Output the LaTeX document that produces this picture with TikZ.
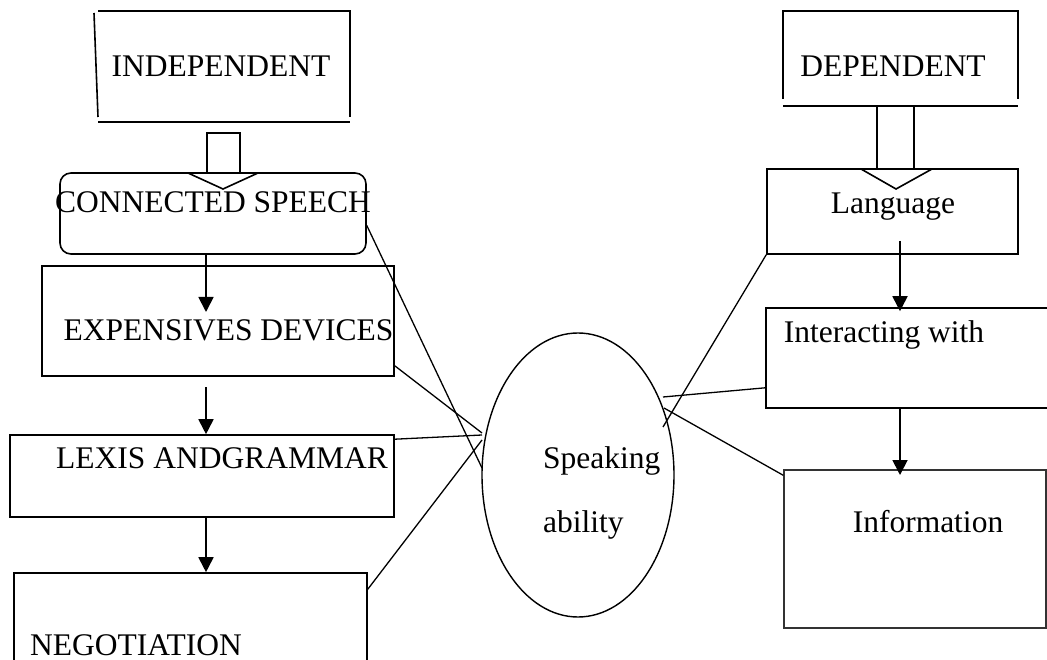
\documentclass[tikz,border=0pt]{standalone}
\usepackage{fontspec}
\setmainfont{Liberation Serif}
\usetikzlibrary{arrows.meta,shapes.geometric,calc}
\begin{document}
\begin{tikzpicture}[x=1pt,y=-1pt,
  box/.style={draw,line width=1.6pt,inner sep=0pt,rectangle},
  rbox/.style={box,rounded corners=11pt},
  txt/.style={inner sep=0pt,anchor=base,font=\fontsize{31.5}{38}\selectfont},
  link/.style={line width=1.3pt},
  arr/.style={line width=1.8pt,-{Triangle[length=15pt,width=15pt]}},
  blk/.style={line width=1.6pt,line join=miter}]
\useasboundingbox (0,0) rectangle (1047,660);
% left column
\node[txt] (indep) at (221,77) {INDEPENDENT};
\draw[box] (94,13) -- (98,117);
\draw[box] (98,11) -- (350,11) -- (350,117);
\draw[box] (98,122) -- (350,122);
\node[rbox,minimum width=306pt,minimum height=81pt] (conn) at (213,213.5) {};
\node[txt] (conntxt) at (213,213) {CONNECTED SPEECH};
\node[box,minimum width=352pt,minimum height=110pt] (exp) at (218,321) {};
\node[txt] (exptxt) at (228.5,341) {EXPENSIVES DEVICES};
\node[box,minimum width=384pt,minimum height=82pt] (lex) at (202,476) {};
\node[txt] (lextxt) at (222,468) {LEXIS ANDGRAMMAR};
\node[box,minimum width=353pt,minimum height=88pt] (neg) at (190.5,617) {};
\node[txt,anchor=base west] (negtxt) at (30,655) {NEGOTIATION};
% block arrow independent
\draw[blk] (207,173) -- (207,133) -- (240,133) -- (240,173);
\draw[blk] (188,173) -- (223,189) -- (258,173);
% right column
\node[txt] (dep) at (893,77) {DEPENDENT};
\draw[box] (783,99) -- (783,11) -- (1018,11) -- (1018,99);
\draw[box] (783,106) -- (1018,106);
\node[box,minimum width=251pt,minimum height=85pt] (lang) at (892.5,211.5) {};
\node[txt] (langtxt) at (893,214) {Language};
\node[box,minimum width=294pt,minimum height=100pt] (inter) at (913,358) {};
\node[txt] (intertxt) at (884,342) {Interacting with};
\node[box,line width=1.3pt,draw=black!80,minimum width=262pt,minimum height=158pt] (info) at (915,549) {};
\node[txt] (infotxt) at (928,532) {Information};
% block arrow dependent
\draw[blk] (877,169) -- (877,106) -- (914,106) -- (914,169);
\draw[blk] (861,169) -- (896,189) -- (932,169);
% ellipse
\node[ellipse,draw,line width=1.4pt,inner sep=0pt,minimum width=192pt,minimum height=284pt] (sp) at (578,475) {};
\node[txt,anchor=base west] (sp1) at (543,468) {Speaking};
\node[txt,anchor=base west] (sp2) at (543,532) {ability};
% vertical arrows
\coordinate (lx) at (206,0);
\coordinate (rx) at (900,0);
\coordinate (t1) at (206,312);
\coordinate (s2) at (206,387);
\coordinate (s4) at (900,241);
\coordinate (t5) at (900,475);
\draw[arr] (conn.south -| lx) -- (t1);
\draw[arr] (s2) -- (lex.north -| lx);
\draw[arr] (lex.south -| lx) -- (neg.north -| lx);
\draw[arr] (s4) -- ([yshift=-4pt]inter.north -| rx);
\draw[arr] (inter.south -| rx) -- (t5);
% connectors to ellipse
\coordinate (ec) at (482,468);
\coordinate (ee) at (482,433);
\coordinate (el) at (482,435);
\coordinate (en) at (482,440);
\coordinate (ela) at (663,427);
\coordinate (ei) at (663,397);
\coordinate (ein) at (664,408);
\draw[link] ([yshift=-12pt]conn.east) -- (ec);
\draw[link] ([yshift=11pt]exp.south east) -- (ee);
\draw[link] ([yshift=-5pt]lex.north east) -- (el);
\draw[link] ([yshift=-17pt]neg.north east) -- (en);
\draw[link] (lang.south west) -- (ela);
\draw[link] ([yshift=21pt]inter.south west) -- (ei);
\draw[link] ([yshift=-6pt]info.north west) -- (ein);
\end{tikzpicture}
\end{document}
